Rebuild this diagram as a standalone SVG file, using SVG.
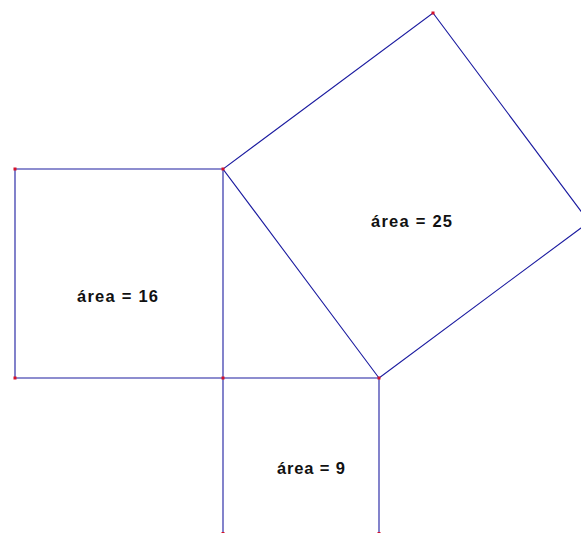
<svg xmlns="http://www.w3.org/2000/svg" width="581" height="533" viewBox="0 0 581 533">
<style>
.e{stroke:#1c1ca0;stroke-width:1.1;fill:none}
.p{fill:#d4102a}
.t{font-family:"Liberation Sans",Arial,sans-serif;font-weight:bold;font-size:16.5px;fill:#111}
</style>
<rect width="581" height="533" fill="#fff"/>
<g id="connectors">
<polyline class="e" points="223,169 15,169 15,378 223,378"/>
<line class="e" x1="223" y1="169" x2="223" y2="540"/>
<line class="e" x1="223" y1="378" x2="379" y2="378"/>
<line class="e" x1="379" y1="378" x2="379" y2="540"/>
<polyline class="e" points="379,378 223,169 433,13 589,222 379,378"/>
</g>
<g id="square16"><text class="t" x="77" y="302" textLength="81" lengthAdjust="spacing">área = 16</text></g>
<g id="square25"><text class="t" x="371" y="227" textLength="81" lengthAdjust="spacing">área = 25</text></g>
<g id="square9"><text class="t" x="277" y="474" textLength="68" lengthAdjust="spacing">área = 9</text></g>
<g id="points">
<rect class="p" x="13.5" y="167.5" width="3" height="3"/>
<rect class="p" x="221.5" y="167.5" width="3" height="3"/>
<rect class="p" x="13.5" y="376.5" width="3" height="3"/>
<rect class="p" x="221.5" y="376.5" width="3" height="3"/>
<rect class="p" x="377.5" y="376.5" width="3" height="3"/>
<rect class="p" x="431.5" y="11.5" width="3" height="3"/>
<rect class="p" x="221.5" y="532" width="3" height="3"/>
<rect class="p" x="377.5" y="532" width="3" height="3"/>
</g>
</svg>
